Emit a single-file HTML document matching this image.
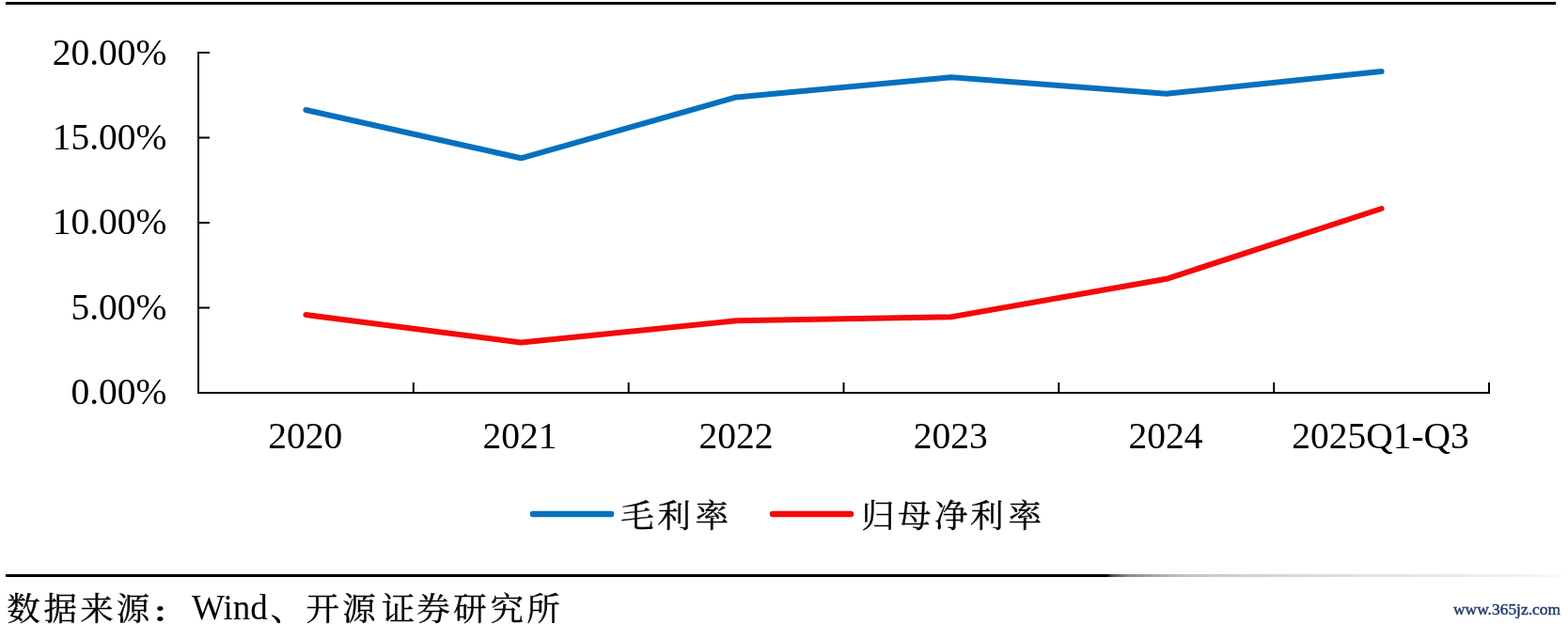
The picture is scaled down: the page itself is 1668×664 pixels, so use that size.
<!DOCTYPE html>
<html>
<head>
<meta charset="utf-8">
<style>
html,body{margin:0;padding:0;background:#fff;}
body{width:1668px;height:664px;overflow:hidden;position:relative;}
svg{position:absolute;left:0;top:0;}
.num{font-family:"Liberation Serif","Noto Serif CJK SC",serif;font-size:39.5px;fill:#000;}
.cjk{font-family:"Liberation Serif","Noto Serif CJK SC",serif;font-size:37px;fill:#000;}
.kai{font-family:"Liberation Serif","Noto Serif CJK SC",serif;font-size:35.5px;fill:#000;stroke:#000;stroke-width:0.35px;}
.num2{font-family:"Liberation Serif",serif;font-size:37px;fill:#000;}
.wm{font-family:"Liberation Serif",serif;font-size:17px;fill:#213d6e;stroke:#213d6e;stroke-width:0.45px;}
</style>
</head>
<body>
<svg width="1668" height="664" viewBox="0 0 1668 664">
  <defs>
    <linearGradient id="fade" x1="0" y1="0" x2="1" y2="0">
      <stop offset="0" stop-color="#2a2a2a"/>
      <stop offset="0.0124" stop-color="#555"/>
      <stop offset="0.0435" stop-color="#888"/>
      <stop offset="0.1056" stop-color="#aaa"/>
      <stop offset="0.1677" stop-color="#c4c4c4"/>
      <stop offset="0.354" stop-color="#d4d4d4"/>
      <stop offset="0.582" stop-color="#e2e2e2"/>
      <stop offset="0.872" stop-color="#eeeeee"/>
      <stop offset="1" stop-color="#fafafa"/>
    </linearGradient>
    <filter id="vblur" x="-0.01" y="-2" width="1.02" height="5">
      <feGaussianBlur stdDeviation="0 0.7"/>
    </filter>
  </defs>
  <!-- top rule -->
  <rect x="6" y="2" width="1649" height="3" fill="#000"/>

  <!-- axes -->
  <g stroke="#000" stroke-width="2" fill="none" stroke-linecap="square">
    <line x1="211" y1="56" x2="211" y2="418"/>
    <line x1="211" y1="418" x2="1584" y2="418"/>
    <line x1="211" y1="56" x2="222" y2="56"/>
    <line x1="211" y1="146.5" x2="222" y2="146.5"/>
    <line x1="211" y1="237" x2="222" y2="237"/>
    <line x1="211" y1="327.5" x2="222" y2="327.5"/>
    <line x1="439.8" y1="408" x2="439.8" y2="418"/>
    <line x1="668.7" y1="408" x2="668.7" y2="418"/>
    <line x1="897.5" y1="408" x2="897.5" y2="418"/>
    <line x1="1126.3" y1="408" x2="1126.3" y2="418"/>
    <line x1="1355.2" y1="408" x2="1355.2" y2="418"/>
    <line x1="1584" y1="408" x2="1584" y2="418"/>
  </g>

  <!-- y labels -->
  <g class="num" text-anchor="end">
    <text x="177.5" y="68.6">20.00%</text>
    <text x="177.5" y="158.9">15.00%</text>
    <text x="177.5" y="249.2">10.00%</text>
    <text x="177.5" y="339.5">5.00%</text>
    <text x="177.5" y="429.8">0.00%</text>
  </g>

  <!-- x labels -->
  <g class="num" text-anchor="middle">
    <text x="324.8" y="476.8">2020</text>
    <text x="553.0" y="476.8">2021</text>
    <text x="783.1" y="476.8">2022</text>
    <text x="1011.2" y="476.8">2023</text>
    <text x="1240.0" y="476.8">2024</text>
    <text x="1468.5" y="476.8">2025Q1-Q3</text>
  </g>

  <!-- series -->
  <polyline fill="none" stroke="#0670bf" stroke-width="6" stroke-linecap="round" stroke-linejoin="round"
    points="325.4,117 554.2,168.3 783.1,103.4 1011.9,82.3 1240.8,99.7 1469.6,76"/>
  <polyline fill="none" stroke="#f30a0a" stroke-width="6" stroke-linecap="round" stroke-linejoin="round"
    points="325.4,335 554.2,364.4 783.1,341.3 1011.9,337.3 1240.8,296.8 1469.6,222"/>

  <!-- legend -->
  <line x1="567" y1="547" x2="650" y2="547" stroke="#0670bf" stroke-width="6.5" stroke-linecap="round"/>
  <text class="kai" text-anchor="middle" x="678 716.9 757.3" y="0" transform="translate(0,560.7) scale(1,0.95)">毛利率</text>
  <line x1="822" y1="547" x2="905" y2="547" stroke="#f30a0a" stroke-width="6.5" stroke-linecap="round"/>
  <text class="kai" text-anchor="middle" x="933.9 972.7 1012 1049.8 1090.3" y="0" transform="translate(0,560.7) scale(1,0.95)">归母净利率</text>

  <!-- bottom rule -->
  <rect x="6" y="611" width="1174" height="3" fill="#000"/>
  <rect x="1179" y="611" width="483" height="3" fill="url(#fade)" filter="url(#vblur)"/>

  <!-- source -->
  <text class="kai" text-anchor="middle" x="25 64.2 102.9 141.6" y="0" transform="translate(0,659.5) scale(1,0.95)">数据来源</text>
  <text x="160.7" y="0" transform="translate(0,661.7) scale(1,0.8)" style="font-family:'Liberation Serif','Noto Serif CJK SC',serif;font-size:36px;font-weight:bold;fill:#000">：</text>
  <text class="num2" x="204" y="659.3">Wind</text>
  <text class="kai" text-anchor="middle" x="305.5 343.3 381.9 423.6 461 500 539.3 577.9" y="0" transform="translate(0,659.5) scale(1,0.95)">、开源证券研究所</text>

  <!-- watermark -->
  <text class="wm" x="1546" y="0" transform="translate(0,653.5) scale(1,1.0)" textLength="114" lengthAdjust="spacingAndGlyphs">www.365jz.com</text>
</svg>
</body>
</html>
